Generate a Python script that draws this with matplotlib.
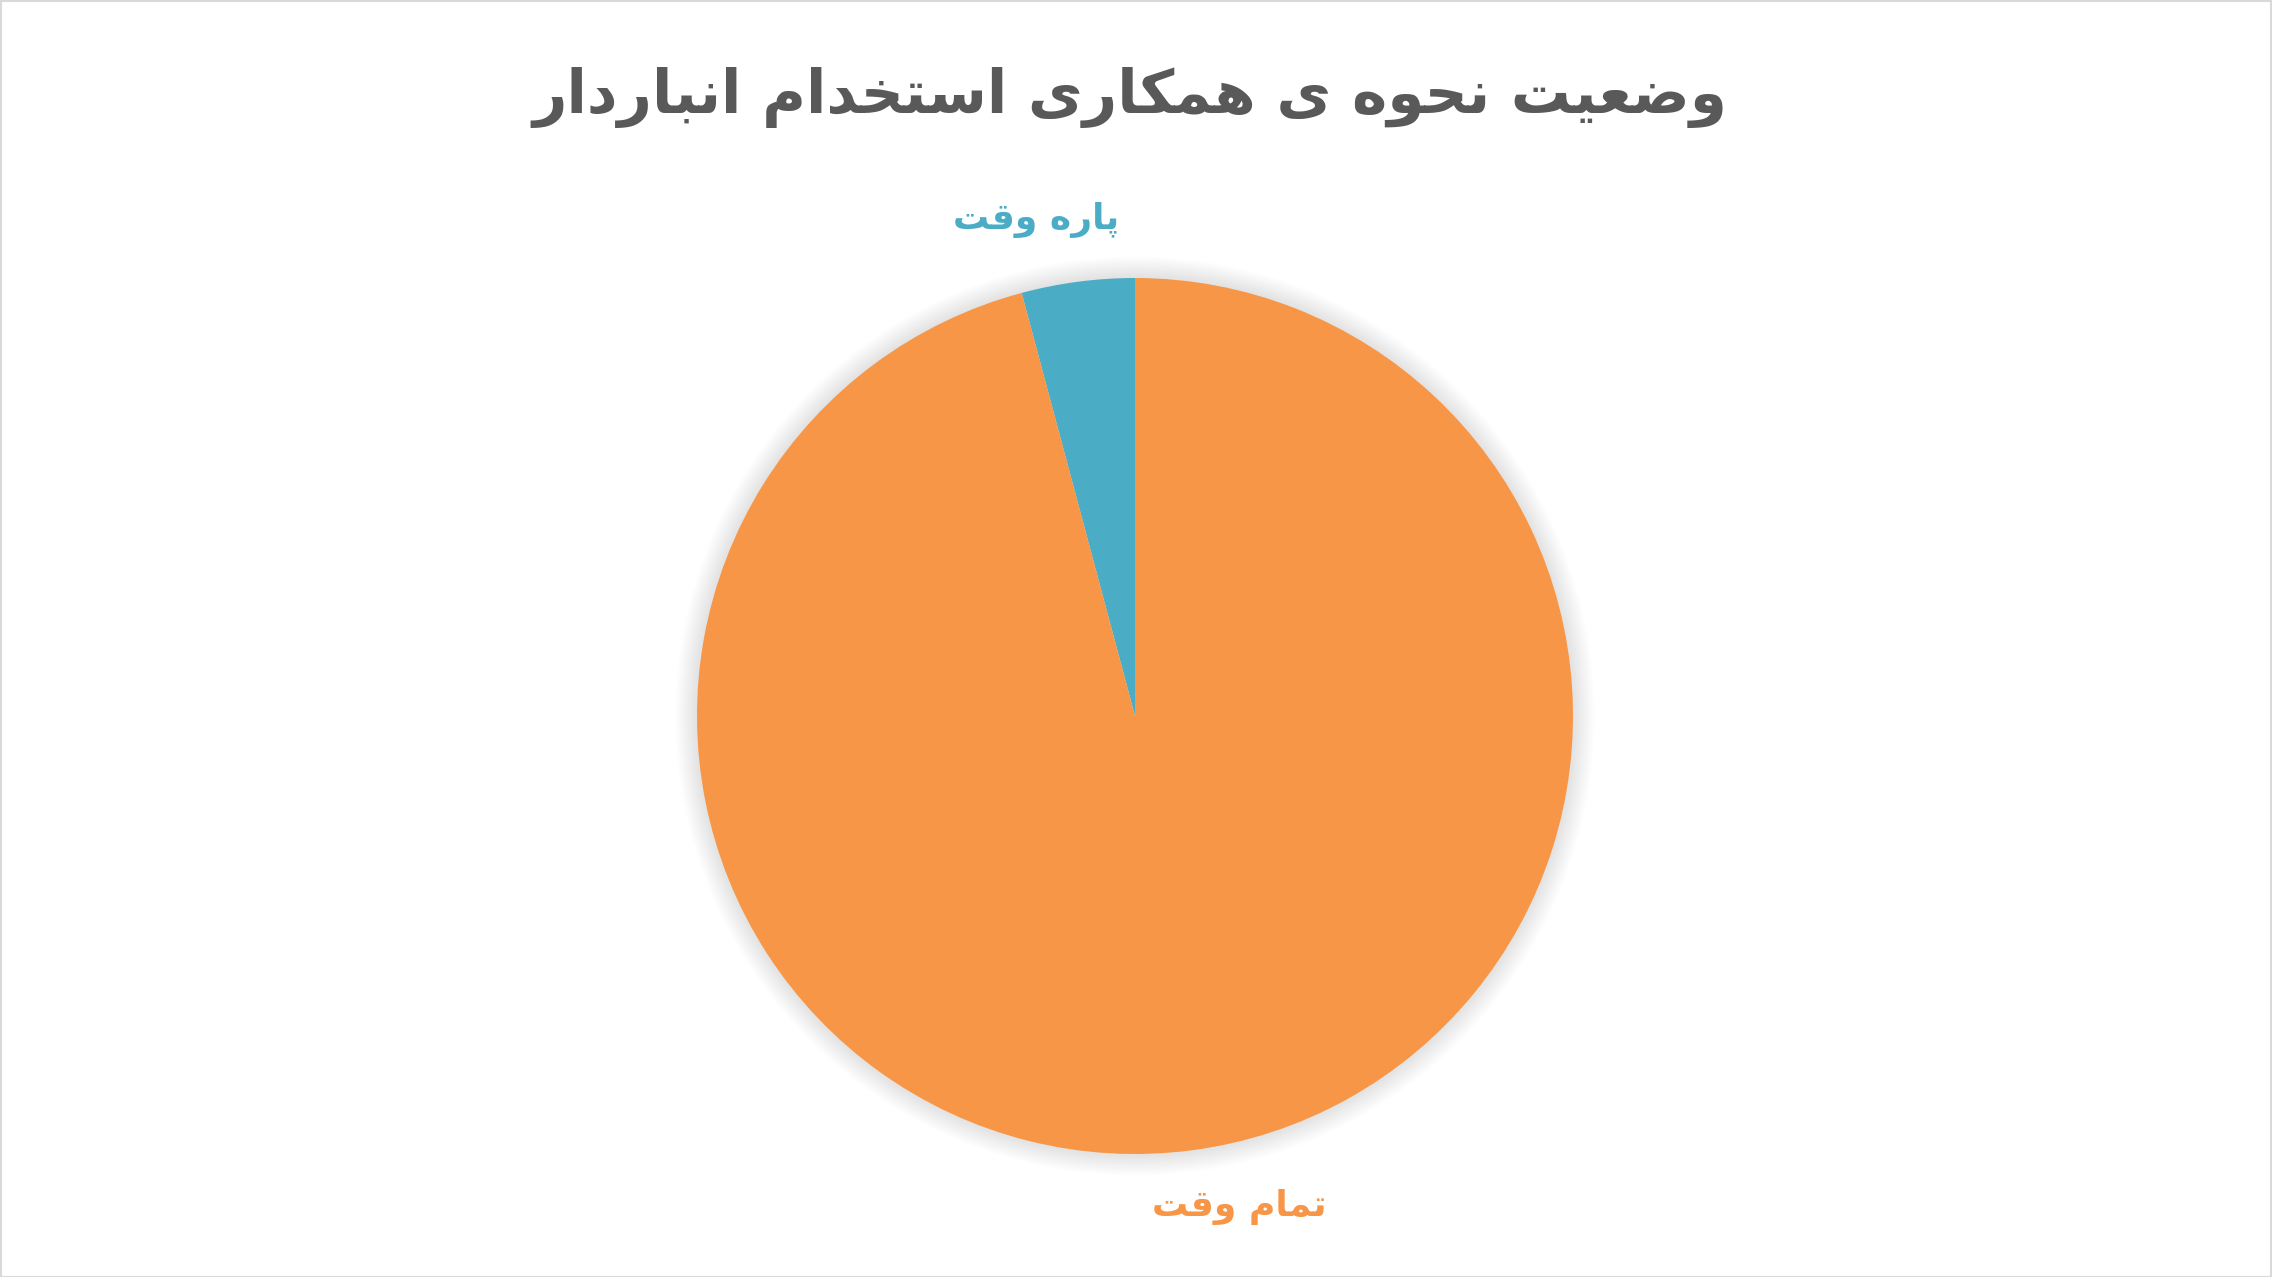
import matplotlib
matplotlib.use("Agg")
import matplotlib.pyplot as plt
from matplotlib.patches import Circle, Rectangle

# chart data
title = "وضعیت نحوه ی همکاری استخدام انباردار"
categories = ["پاره وقت", "تمام وقت"]
values = [1, 23]
colors = ["#4BACC6", "#F79646"]

# minimal arabic/persian shaping: (isolated, final, initial, medial)
FORMS = {
    "ا": ("\uFE8D", "\uFE8E", None, None),
    "ب": ("\uFE8F", "\uFE90", "\uFE91", "\uFE92"),
    "پ": ("\uFB56", "\uFB57", "\uFB58", "\uFB59"),
    "ت": ("\uFE95", "\uFE96", "\uFE97", "\uFE98"),
    "ح": ("\uFEA1", "\uFEA2", "\uFEA3", "\uFEA4"),
    "خ": ("\uFEA5", "\uFEA6", "\uFEA7", "\uFEA8"),
    "د": ("\uFEA9", "\uFEAA", None, None),
    "ر": ("\uFEAD", "\uFEAE", None, None),
    "س": ("\uFEB1", "\uFEB2", "\uFEB3", "\uFEB4"),
    "ض": ("\uFEBD", "\uFEBE", "\uFEBF", "\uFEC0"),
    "ع": ("\uFEC9", "\uFECA", "\uFECB", "\uFECC"),
    "ق": ("\uFED5", "\uFED6", "\uFED7", "\uFED8"),
    "ک": ("\uFB8E", "\uFB8F", "\uFB90", "\uFB91"),
    "م": ("\uFEE1", "\uFEE2", "\uFEE3", "\uFEE4"),
    "ن": ("\uFEE5", "\uFEE6", "\uFEE7", "\uFEE8"),
    "ه": ("\uFEE9", "\uFEEA", "\uFEEB", "\uFEEC"),
    "و": ("\uFEED", "\uFEEE", None, None),
    "ی": ("\uFBFC", "\uFBFD", "\uFBFE", "\uFBFF"),
}


def dual(c):
    return c in FORMS and FORMS[c][2] is not None


def shape(text):
    out = []
    for i, c in enumerate(text):
        if c not in FORMS:
            out.append(c)
            continue
        prev = text[i - 1] if i > 0 else ""
        nxt = text[i + 1] if i + 1 < len(text) else ""
        jp = dual(prev)
        jn = dual(c) and nxt in FORMS
        iso, fin, ini, med = FORMS[c]
        if jp and jn:
            out.append(med)
        elif jp:
            out.append(fin)
        elif jn:
            out.append(ini)
        else:
            out.append(iso)
    return "".join(out)[::-1]


plt.rcParams['font.family'] = ['DejaVu Sans']

W, H = 2272, 1277
fig = plt.figure(figsize=(W / 100, H / 100), dpi=100)
ax = fig.add_axes([0, 0, 1, 1])

cx, cy, r = 1135, 561, 438

# soft shadow around the pie
for k in range(14):
    ax.add_patch(Circle((cx, cy), r + 2 + k * 1.5, color="#000000",
                        alpha=0.009, lw=0, zorder=0))

ax.pie(values, colors=colors, startangle=90, counterclock=True,
       center=(cx, cy), radius=r, frame=True,
       wedgeprops=dict(linewidth=0, zorder=2))
ax.set_xlim(0, W)
ax.set_ylim(0, H)
ax.set_aspect("auto")
ax.axis("off")

ax.text(1036, 1057, shape(categories[0]), color=colors[0], fontsize=26,
        fontweight="bold", ha="center", va="center")
ax.text(1239, 70, shape(categories[1]), color=colors[1], fontsize=26,
        fontweight="bold", ha="center", va="center")

fig.text(1130 / W, 1 - 97 / H, shape(title), color="#595959", fontsize=43,
         fontweight="bold", ha="center", va="center")

fig.patches.append(Rectangle((0.5 / W, 0.5 / H), 1 - 1.5 / W, 1 - 1.5 / H,
                             transform=fig.transFigure, fill=False,
                             edgecolor="#D9D9D9", linewidth=1.5))

fig.savefig("out.png", dpi=100, facecolor="white")
